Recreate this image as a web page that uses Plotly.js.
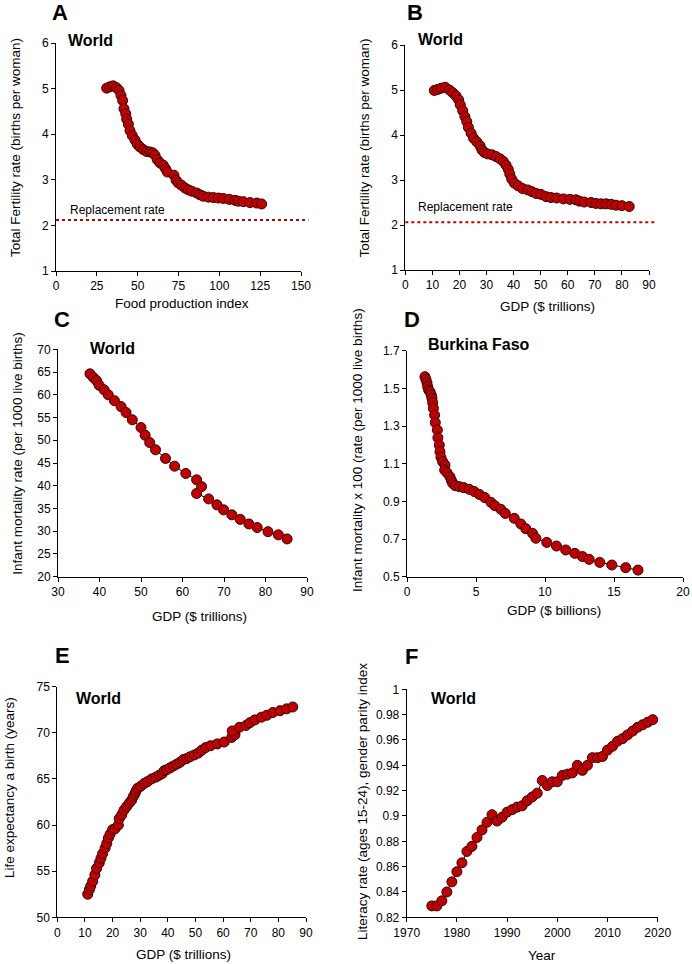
<!DOCTYPE html>
<html>
<head>
<meta charset="utf-8">
<script src="https://cdn.plot.ly/plotly-3.0.1.min.js"></script>
<style>html,body{margin:0;padding:0;background:#fff;}#chart{width:692px;height:964px;}</style>
</head>
<body>
<div id="chart"></div>
<script>
// ---------- DATA ----------
// Panel A: food production index vs total fertility rate (World)
const aFood = [31.0,33.0,35.0,37.0,38.6,39.8,40.8,41.6,42.7,43.3,44.3,45.3,46.7,48.4,49.8,51.4,53.5,55.5,57.6,59.2,60.6,62.0,63.7,65.7,67.1,68.2,72.2,73.5,74.9,76.9,79.0,81.0,83.1,86.1,88.2,90.2,93.3,96.3,99.4,102.4,106.1,109.6,111.6,114.7,118.8,122.9,125.9];
const aFertility = [5.01,5.04,5.06,5.02,4.96,4.85,4.74,4.56,4.45,4.33,4.22,4.08,3.97,3.87,3.78,3.72,3.66,3.62,3.61,3.59,3.54,3.44,3.37,3.32,3.24,3.17,3.10,2.99,2.93,2.88,2.82,2.78,2.75,2.71,2.67,2.64,2.62,2.61,2.60,2.59,2.57,2.55,2.53,2.52,2.50,2.49,2.47];
const aReplacement = 2.12;

// Panel B: GDP ($ trillions) vs total fertility rate (World)
const bGdp = [10.7,11.9,13.2,14.7,16.3,17.5,18.7,19.7,20.3,21.2,22.0,22.7,23.3,24.3,25.2,26.4,27.6,28.3,29.2,30.4,32.0,33.5,35.0,36.2,37.2,38.0,38.6,39.3,40.3,41.7,43.3,45.2,46.8,48.3,50.1,52.0,53.8,55.9,58.4,60.8,63.0,64.3,66.1,68.6,70.4,72.3,74.1,76.0,77.8,80.0,82.7];
const bFertility = [4.99,5.01,5.04,5.06,5.00,4.94,4.87,4.78,4.67,4.54,4.41,4.30,4.17,4.04,3.93,3.85,3.76,3.67,3.61,3.58,3.56,3.52,3.47,3.41,3.33,3.24,3.13,3.02,2.93,2.87,2.81,2.78,2.74,2.70,2.68,2.63,2.61,2.60,2.58,2.57,2.56,2.53,2.51,2.50,2.48,2.47,2.47,2.46,2.44,2.43,2.41];
const bReplacement = 2.06;

// Panel C: GDP ($ trillions) vs infant mortality (World)
const cGdp = [37.7,38.5,39.3,39.9,41.1,42.1,43.6,45.2,46.4,47.9,50.0,51.0,52.1,53.5,55.9,58.1,60.8,63.4,64.6,63.4,66.3,68.3,69.9,71.9,73.9,76.0,78.0,80.6,83.1,85.2];
const cMortality = [64.6,63.8,63.1,62.1,61.1,60.0,58.7,57.4,56.1,54.5,52.8,51.1,49.5,47.9,46.0,44.3,42.7,41.3,39.8,38.3,37.1,35.8,34.7,33.6,32.6,31.6,30.8,29.9,29.2,28.3];

// Panel D: GDP ($ billions) vs infant mortality x 100 (Burkina Faso)
const dGdp = [1.30,1.37,1.45,1.50,1.57,1.67,1.76,1.81,1.86,1.91,2.00,2.05,2.20,2.24,2.34,2.39,2.46,2.58,2.75,2.73,2.90,3.11,3.21,3.31,3.50,3.79,4.10,4.51,4.87,5.24,5.64,6.08,6.37,6.80,7.12,7.77,8.25,8.61,9.10,9.34,10.13,10.83,11.50,12.16,12.71,13.20,13.97,14.84,15.85,16.74];
const dMortality = [1.562,1.548,1.530,1.509,1.491,1.482,1.465,1.447,1.424,1.394,1.358,1.318,1.279,1.238,1.199,1.164,1.134,1.111,1.093,1.066,1.052,1.031,1.013,0.996,0.983,0.978,0.973,0.964,0.952,0.937,0.920,0.895,0.877,0.858,0.836,0.810,0.780,0.755,0.730,0.704,0.682,0.663,0.642,0.624,0.607,0.592,0.576,0.562,0.548,0.535];

// Panel E: GDP ($ trillions) vs life expectancy (World)
const eGdp = [11.0,11.6,12.1,12.8,13.6,14.2,15.2,15.8,16.4,17.3,17.9,18.5,19.1,20.0,20.9,22.1,22.4,23.3,24.1,25.1,26.1,26.9,27.5,28.1,28.5,29.1,30.2,31.4,32.6,34.1,35.7,36.9,38.0,38.7,39.6,40.8,42.0,43.2,44.4,45.6,46.8,48.0,49.6,51.0,52.2,53.7,55.5,57.9,60.4,63.1,64.3,63.3,65.9,68.3,69.7,71.5,73.9,75.8,78.0,80.6,83.0,85.2];
const eLife = [52.5,53.0,53.4,53.9,54.6,55.3,55.9,56.4,56.9,57.5,58.0,58.6,59.0,59.5,59.6,60.0,60.7,61.1,61.6,62.0,62.4,62.7,63.1,63.4,63.7,64.0,64.2,64.5,64.7,65.0,65.2,65.4,65.6,65.9,66.0,66.2,66.4,66.6,66.8,67.1,67.2,67.4,67.6,67.8,68.1,68.4,68.6,68.8,69.0,69.5,69.8,70.2,70.6,70.8,71.1,71.4,71.7,71.9,72.2,72.4,72.6,72.8];

// Panel F: year vs literacy gender parity index (World)
const fYear = [1975,1976,1977,1978,1979,1980,1981,1982,1983,1984,1985,1986,1987,1988,1989,1990,1991,1992,1993,1994,1995,1996,1997,1998,1999,2000,2001,2002,2003,2004,2005,2006,2007,2008,2009,2010,2011,2012,2013,2014,2015,2016,2017,2018,2019];
const fParity = [0.829,0.829,0.833,0.840,0.848,0.856,0.863,0.872,0.876,0.883,0.889,0.895,0.901,0.896,0.899,0.903,0.905,0.907,0.908,0.912,0.915,0.918,0.928,0.924,0.927,0.927,0.932,0.933,0.934,0.940,0.936,0.940,0.946,0.946,0.947,0.952,0.955,0.959,0.961,0.964,0.967,0.970,0.972,0.974,0.976];

// Tick labels
const aXTicks = [0,25,50,75,100,125,150];
const fertYTicks = [1,2,3,4,5,6];
const gdpXTicks = [0,10,20,30,40,50,60,70,80,90];
const cXTicks = [30,40,50,60,70,80,90];
const cYTicks = [20,25,30,35,40,45,50,55,60,65,70];
const dXTicks = [0,5,10,15,20];
const dYTicks = [0.5,0.7,0.9,1.1,1.3,1.5,1.7];
const eYTicks = [50,55,60,65,70,75];
const fXTicks = [1970,1980,1990,2000,2010,2020];
const fYTicks = [0.82,0.84,0.86,0.88,0.9,0.92,0.94,0.96,0.98,1];

// Text
const panelLetters = ['A','B','C','D','E','F'];
const regionLabels = ['World','World','World','Burkina Faso','World','World'];
const xTitles = ['Food production index','GDP ($ trillions)','GDP ($ trillions)','GDP ($ billions)','GDP ($ trillions)','Year'];
const yTitles = ['Total Fertility rate (births per woman)','Total Fertility rate (births per woman)','Infant mortality rate (per 1000 live births)','Infant mortality x 100 (rate (per 1000 live births)','Life expectancy a birth (years)','Literacy rate (ages 15-24), gender parity index'];
const replacementText = 'Replacement rate';

// ---------- LAYOUT ----------
const W = 692, H = 964;
const px = v => v / W;
const py = v => 1 - v / H;
const FONT = 'Liberation Sans, Arial, sans-serif';

// plot boxes in pixels: [left, right, top, bottom]
const boxes = [
  [56, 301, 43, 271],
  [405.3, 649, 45, 270],
  [58, 307, 349.3, 576.7],
  [407, 683, 350.7, 576.7],
  [57.3, 306, 686.7, 917.3],
  [406.7, 657.7, 689.3, 917.3]
];
const ranges = [
  {x:[0,150], y:[1,6], xt:aXTicks, yt:fertYTicks},
  {x:[0,90], y:[1,6], xt:gdpXTicks, yt:fertYTicks},
  {x:[30,90], y:[20,70], xt:cXTicks, yt:cYTicks},
  {x:[0,20], y:[0.5,1.7], xt:dXTicks, yt:dYTicks},
  {x:[0,90], y:[50,75], xt:gdpXTicks, yt:eYTicks},
  {x:[1970,2020], y:[0.82,1], xt:fXTicks, yt:fYTicks}
];
const series = [[aFood,aFertility],[bGdp,bFertility],[cGdp,cMortality],[dGdp,dMortality],[eGdp,eLife],[fYear,fParity]];

const traces = series.map((s, i) => ({
  type: 'scatter', mode: 'lines+markers',
  x: s[0], y: s[1],
  xaxis: i === 0 ? 'x' : 'x' + (i + 1),
  yaxis: i === 0 ? 'y' : 'y' + (i + 1),
  line: {color: '#000', width: 1},
  marker: {size: 10, color: '#C00000', line: {color: '#3a0000', width: 1}},
  cliponaxis: false,
  hoverinfo: 'skip'
}));

const layout = {
  width: W, height: H,
  margin: {l: 0, r: 0, t: 0, b: 0},
  paper_bgcolor: '#fff', plot_bgcolor: 'rgba(0,0,0,0)',
  showlegend: false,
  font: {family: FONT, size: 12, color: '#000'},
  annotations: [], shapes: []
};

const axisBase = {
  showline: true, linecolor: '#000', linewidth: 1,
  ticks: 'outside', ticklen: 4, tickcolor: '#000', tickwidth: 1,
  showgrid: false, zeroline: false, fixedrange: true,
  tickfont: {family: FONT, size: 12, color: '#000'},
  tickmode: 'array'
};

boxes.forEach((b, i) => {
  const xk = i === 0 ? 'xaxis' : 'xaxis' + (i + 1);
  const yk = i === 0 ? 'yaxis' : 'yaxis' + (i + 1);
  const xa = i === 0 ? 'x' : 'x' + (i + 1);
  const ya = i === 0 ? 'y' : 'y' + (i + 1);
  layout[xk] = Object.assign({}, axisBase, {
    domain: [px(b[0]), px(b[1])], range: ranges[i].x, tickvals: ranges[i].xt,
    anchor: ya
  });
  layout[yk] = Object.assign({}, axisBase, {
    domain: [py(b[3]), py(b[2])], range: ranges[i].y, tickvals: ranges[i].yt,
    anchor: xa
  });
});

function ann(text, x, y, o) {
  layout.annotations.push(Object.assign({
    text: text, xref: 'paper', yref: 'paper', x: px(x), y: py(y),
    xanchor: 'center', yanchor: 'middle', showarrow: false,
    font: {family: FONT, size: 13.5, color: '#000'}
  }, o || {}));
}

// panel letters
const letterPos = [[60,13],[415,12.5],[61.5,319.5],[411.5,319.5],[62.5,655.5],[411.5,656.5]];
panelLetters.forEach((t, i) => ann('<b>' + t + '</b>', letterPos[i][0], letterPos[i][1], {font: {family: FONT, size: 22, color: '#000'}}));

// region labels
const regionPos = [[66,41],[416,39.5],[88,348],[426,344],[74,698.5],[429,698.5]];
regionLabels.forEach((t, i) => ann('<b>' + t + '</b>', regionPos[i][0], regionPos[i][1], {xanchor: 'left', font: {family: FONT, size: 16, color: '#000'}}));

// x titles
const xTitlePos = [[182,303],[547,306],[199,616],[554,610],[184,954],[542,955]];
xTitles.forEach((t, i) => ann(t, xTitlePos[i][0], xTitlePos[i][1]));

// y titles
const yTitlePos = [[15,148],[363.5,148],[16.7,454],[357,450],[9,788],[362,802]];
yTitles.forEach((t, i) => ann(t, yTitlePos[i][0], yTitlePos[i][1], {textangle: -90}));

// replacement rate lines and labels
[[aReplacement,'x','y'],[bReplacement,'x2','y2']].forEach(r => {
  layout.shapes.push({
    type: 'line', xref: r[1] + ' domain', yref: r[2],
    x0: 0, x1: 1.03, y0: r[0], y1: r[0],
    line: {color: '#C00000', width: 2, dash: 'dot'}
  });
});
ann(replacementText, 68, 209.5, {xanchor: 'left', font: {family: FONT, size: 12, color: '#000'}});
ann(replacementText, 416, 207, {xanchor: 'left', font: {family: FONT, size: 12, color: '#000'}});

Plotly.newPlot('chart', traces, layout, {staticPlot: true, displayModeBar: false});
</script>
</body>
</html>
